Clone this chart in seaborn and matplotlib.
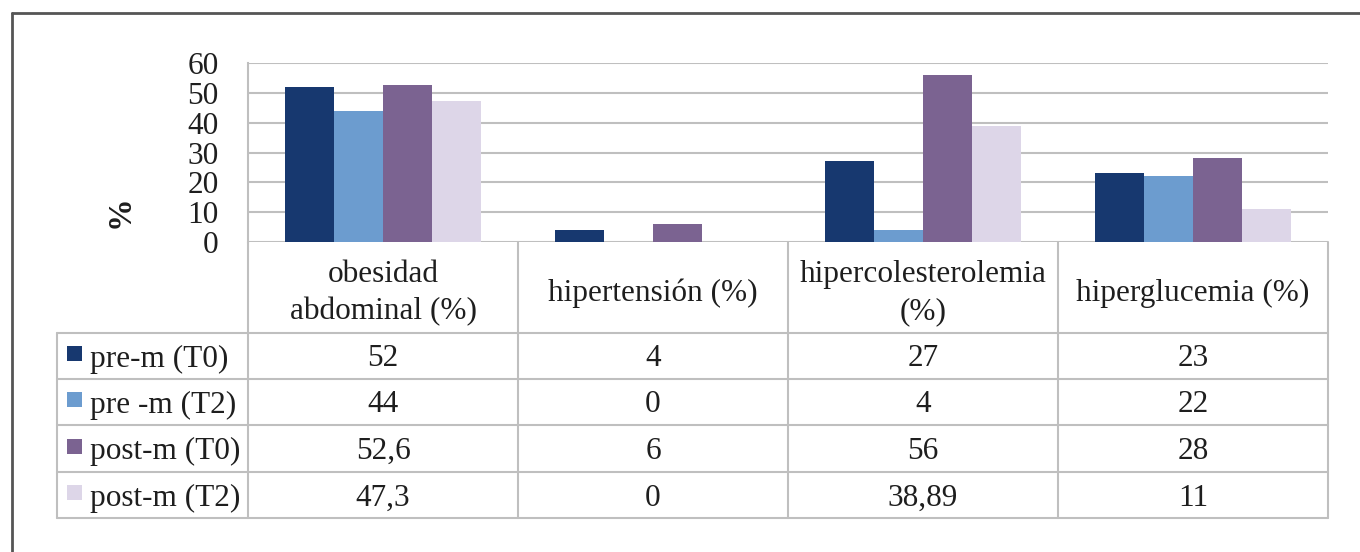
import matplotlib
matplotlib.use("Agg")
import matplotlib.pyplot as plt
from matplotlib.patches import Rectangle
import pandas as pd
import seaborn as sns

categories = ["obesidad\nabdominal (%)", "hipertensión (%)",
              "hipercolesterolemia\n(%)", "hiperglucemia (%)"]
series = ["pre-m (T0)", "pre -m (T2)", "post-m (T0)", "post-m (T2)"]
pre_t0 = [52, 4, 27, 23]
pre_t2 = [44, 0, 4, 22]
post_t0 = [52.6, 6, 56, 28]
post_t2 = [47.3, 0, 38.89, 11]
colors = ["#17386F", "#6C9CCF", "#7B6391", "#DDD6E8"]
yticks = [0, 10, 20, 30, 40, 50, 60]

values = [pre_t0, pre_t2, post_t0, post_t2]
rows = []
for s, vals in zip(series, values):
    for c, v in zip(categories, vals):
        rows.append({"cat": c, "serie": s, "val": v})
df = pd.DataFrame(rows)

sns.set_theme(style="white")
plt.rcParams["font.family"] = ["Liberation Serif", "DejaVu Serif"]
fs = 22.5
txt_c = "#1E1E1E"
grid_c = "#BFBFBF"

W, H = 1360, 552
fig = plt.figure(figsize=(W / 100, H / 100), dpi=100)

# overlay in pixel coordinates for the data table and frame
tab = fig.add_axes([0, 0, 1, 1], zorder=0)
tab.set_xlim(0, W)
tab.set_ylim(H, 0)
tab.axis("off")

# main bar axes
x0, x1, y0, y1 = 248, 1328, 242, 63
ax = fig.add_axes([x0 / W, 1 - y0 / H, (x1 - x0) / W, (y0 - y1) / H], zorder=1)
ax.patch.set_alpha(0)
sns.barplot(data=df, x="cat", y="val", hue="serie", palette=colors,
            width=0.726, gap=0, linewidth=0, saturation=1, legend=False,
            ax=ax, zorder=3)
ax.set_xlim(-0.5, 3.5)
ax.set_ylim(0, 60)
ax.set_yticks(yticks)
ax.set_yticklabels([str(t) for t in yticks], fontsize=fs)
ax.set_xticks([])
ax.set_xlabel("")
ax.set_ylabel("")
ax.tick_params(axis="y", length=0, pad=21, colors=txt_c)
ax.grid(axis="y", color=grid_c, linewidth=1.5, zorder=0)
ax.set_axisbelow(True)
for side in ["top", "right", "bottom"]:
    ax.spines[side].set_visible(False)
ax.spines["left"].set_color(grid_c)
ax.spines["left"].set_linewidth(1.5)

fig.text(120 / W, 1 - 212 / H, "%", rotation=90, fontsize=fs + 1,
         fontweight="bold", ha="center", va="center", color=txt_c)

# outer frame (only top/left visible in the crop)
tab.plot([12, 12], [H + 5, 13], color="#555555", lw=2)
tab.plot([12, W + 5], [13, 13], color="#555555", lw=2)

# data table
col_x = [248, 518, 788, 1058, 1328]
row_y = [333, 379, 425, 472, 518]
lw = 1.5
for x in col_x:
    tab.plot([x, x], [242, 518], color=grid_c, lw=lw)
tab.plot([57, 57], [333, 518], color=grid_c, lw=lw)
for y in row_y:
    tab.plot([57, 1328], [y, y], color=grid_c, lw=lw)

for i, c in enumerate(categories):
    cx = (col_x[i] + col_x[i + 1]) / 2
    tab.text(cx, 293, c, ha="center", va="center", fontsize=fs,
             color=txt_c, linespacing=1.35)

for r, (s, vals, col) in enumerate(zip(series, values, colors)):
    cy = (row_y[r] + row_y[r + 1]) / 2
    tab.add_patch(Rectangle((67, cy - 10), 15, 15, color=col, lw=0))
    tab.text(90, cy + 3, s, ha="left", va="center", fontsize=fs, color=txt_c)
    for i, v in enumerate(vals):
        cx = (col_x[i] + col_x[i + 1]) / 2
        tab.text(cx, cy + 3, f"{v:g}".replace(".", ","), ha="center",
                 va="center", fontsize=fs, color=txt_c)

fig.savefig("out.png", dpi=100, facecolor="white")
